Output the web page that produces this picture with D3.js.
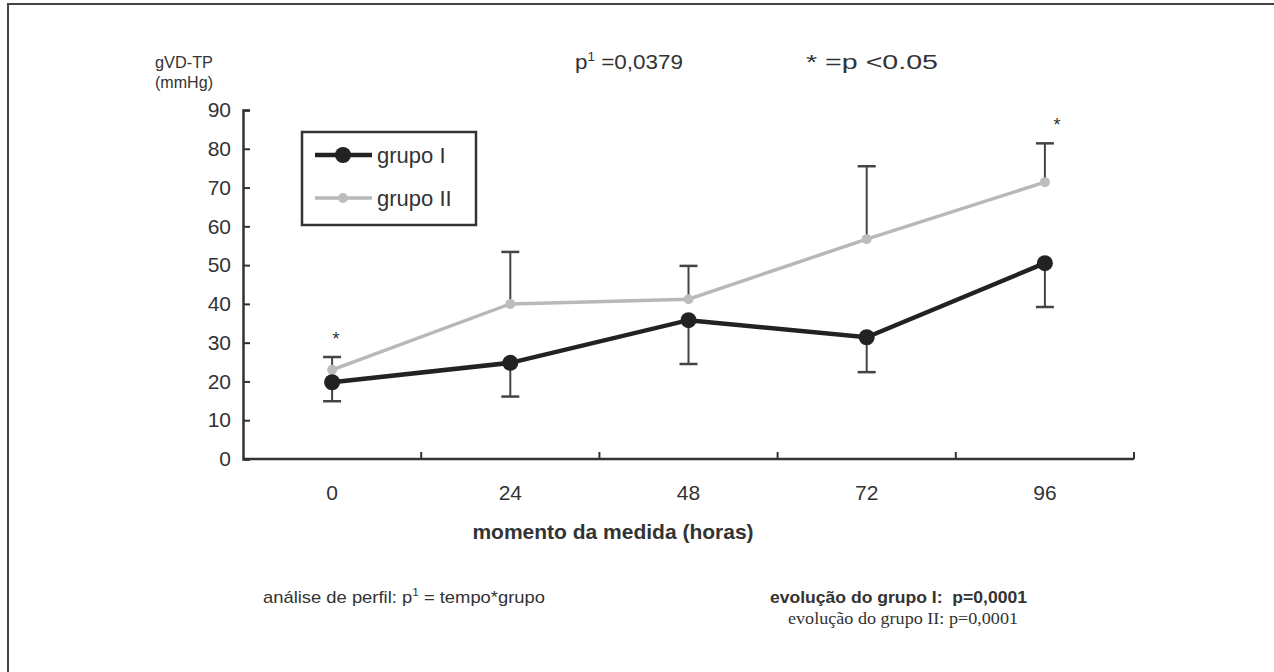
<!DOCTYPE html>
<html>
<head>
<meta charset="utf-8">
<script src="https://cdn.jsdelivr.net/npm/d3@7"></script>
<style>
body { margin: 0; background: #fff; }
text { font-family: "Liberation Sans", Arial, sans-serif; fill: #333; }
</style>
</head>
<body>
<svg width="1274" height="672"></svg>
<script>
// dados
var horas = ["0", "24", "48", "72", "96"];
var grupoI = [19.8, 24.8, 35.8, 31.4, 50.5];
var grupoIdp = [4.9, 8.7, 11.3, 9.0, 11.3];
var grupoII = [23.0, 40.0, 41.2, 56.7, 71.4];
var grupoIIdp = [3.3, 13.4, 8.6, 18.8, 10.0];
var yTicks = [0, 10, 20, 30, 40, 50, 60, 70, 80, 90];
var asterisco = ["0", "96"];

var svg = d3.select('svg');

// moldura
svg.append('path')
  .attr('d', 'M8,672 L8,4 L1274,4')
  .attr('fill', 'none')
  .attr('stroke', '#444')
  .attr('stroke-width', 2);

// escalas
var xScale = d3.scaleBand().domain(horas).range([243, 1134]).padding(0);
var yScale = d3.scaleLinear().domain([0, 90]).range([459, 110]);
var cx = function(d) { return xScale(d) + xScale.bandwidth() / 2; };

// eixo y
var yAxis = d3.axisLeft(yScale).tickValues(yTicks).tickSize(-7).tickPadding(12);
var yAxisGroup = svg.append('g').attr('class', 'yAxis')
  .attr('transform', 'translate(243,0)')
  .call(yAxis);
yAxisGroup.select('.domain').attr('stroke', '#333').attr('stroke-width', 2.5);
yAxisGroup.selectAll('.tick line').attr('stroke', '#333').attr('stroke-width', 2);
yAxisGroup.selectAll('text').attr('font-size', 21).attr('fill', '#333')
  .style('font-family', '"Liberation Sans", Arial, sans-serif');

// eixo x
var xAxis = d3.axisBottom(xScale).tickSize(0).tickPadding(26);
var xAxisGroup = svg.append('g').attr('class', 'xAxis')
  .attr('transform', 'translate(0,459)')
  .call(xAxis);
xAxisGroup.select('.domain').remove();
xAxisGroup.selectAll('text').attr('font-size', 21).attr('fill', '#333')
  .style('font-family', '"Liberation Sans", Arial, sans-serif');
xAxisGroup.append('line')
  .attr('x1', xScale.range()[0]).attr('x2', xScale.range()[1])
  .attr('stroke', '#333').attr('stroke-width', 2.5);
var limites = horas.slice(1).map(d => xScale(d)).concat([xScale.range()[1]]);
xAxisGroup.selectAll('.btick')
  .data(limites)
  .enter()
  .append('line')
  .attr('class', 'btick')
  .attr('x1', d => d).attr('x2', d => d)
  .attr('y1', 0).attr('y2', -7)
  .attr('stroke', '#333').attr('stroke-width', 2);

// barras de erro (grupo I para baixo, grupo II para cima)
function barras(valores, dp, sinal) {
  var g = svg.append('g');
  horas.forEach(function(h, i) {
    var y0 = yScale(valores[i]);
    var y1 = yScale(valores[i] + sinal * dp[i]);
    g.append('line')
      .attr('x1', cx(h)).attr('x2', cx(h))
      .attr('y1', y0).attr('y2', y1)
      .attr('stroke', '#444').attr('stroke-width', 2);
    g.append('line')
      .attr('x1', cx(h) - 9).attr('x2', cx(h) + 9)
      .attr('y1', y1).attr('y2', y1)
      .attr('stroke', '#444').attr('stroke-width', 2.5);
  });
}
barras(grupoII, grupoIIdp, 1);
barras(grupoI, grupoIdp, -1);

var linha = d3.line()
  .x((d, i) => cx(horas[i]))
  .y(d => yScale(d));

// grupo II
svg.append('path')
  .datum(grupoII)
  .attr('d', linha)
  .attr('fill', 'none')
  .attr('stroke', '#b8b8b8')
  .attr('stroke-width', 3.5);
svg.selectAll('.ptII')
  .data(grupoII)
  .enter()
  .append('circle')
  .attr('class', 'ptII')
  .attr('cx', (d, i) => cx(horas[i]))
  .attr('cy', d => yScale(d))
  .attr('r', 5)
  .attr('fill', '#bdbdbd');

// grupo I
svg.append('path')
  .datum(grupoI)
  .attr('d', linha)
  .attr('fill', 'none')
  .attr('stroke', '#222')
  .attr('stroke-width', 4.5);
svg.selectAll('.ptI')
  .data(grupoI)
  .enter()
  .append('circle')
  .attr('class', 'ptI')
  .attr('cx', (d, i) => cx(horas[i]))
  .attr('cy', d => yScale(d))
  .attr('r', 8)
  .attr('fill', '#222');

// asteriscos
svg.selectAll('.ast')
  .data(asterisco)
  .enter()
  .append('text')
  .attr('class', 'ast')
  .attr('x', d => cx(d) + (d === "96" ? 12 : 4))
  .attr('y', d => {
    var i = horas.indexOf(d);
    return yScale(grupoII[i] + grupoIIdp[i]) - 12;
  })
  .attr('text-anchor', 'middle')
  .attr('font-size', 18)
  .text('*');

// legenda
var leg = svg.append('g');
leg.append('rect')
  .attr('x', 302).attr('y', 132).attr('width', 174).attr('height', 93)
  .attr('fill', '#fff').attr('stroke', '#333').attr('stroke-width', 2.5);
leg.append('line').attr('x1', 315).attr('x2', 372).attr('y1', 155).attr('y2', 155)
  .attr('stroke', '#222').attr('stroke-width', 4.5);
leg.append('circle').attr('cx', 343).attr('cy', 155).attr('r', 8).attr('fill', '#222');
leg.append('line').attr('x1', 315).attr('x2', 372).attr('y1', 198).attr('y2', 198)
  .attr('stroke', '#b8b8b8').attr('stroke-width', 3.5);
leg.append('circle').attr('cx', 343).attr('cy', 198).attr('r', 5).attr('fill', '#bdbdbd');
leg.append('text').attr('x', 377).attr('y', 163).attr('font-size', 22).text('grupo I');
leg.append('text').attr('x', 377).attr('y', 206).attr('font-size', 22).text('grupo II');

// textos
svg.append('text').attr('x', 155).attr('y', 68).attr('font-size', 17)
  .attr('textLength', 58).attr('lengthAdjust', 'spacingAndGlyphs').text('gVD-TP');
svg.append('text').attr('x', 155).attr('y', 88).attr('font-size', 17)
  .attr('textLength', 58).attr('lengthAdjust', 'spacingAndGlyphs').text('(mmHg)');

var p1 = svg.append('text').attr('x', 575).attr('y', 69).attr('font-size', 20)
  .attr('textLength', 108).attr('lengthAdjust', 'spacingAndGlyphs');
p1.append('tspan').text('p');
p1.append('tspan').attr('font-size', 12).attr('dy', -8).text('1');
p1.append('tspan').attr('dy', 8).text(' =0,0379');

svg.append('text').attr('x', 806).attr('y', 69).attr('font-size', 20)
  .attr('textLength', 132).attr('lengthAdjust', 'spacingAndGlyphs')
  .text('* =p <0.05');

svg.append('text')
  .attr('x', 613).attr('y', 539)
  .attr('text-anchor', 'middle')
  .attr('font-size', 21).attr('font-weight', 'bold')
  .attr('fill', '#222')
  .text('momento da medida (horas)');

var an = svg.append('text').attr('x', 263).attr('y', 603).attr('font-size', 17).attr('fill', '#222')
  .attr('textLength', 282).attr('lengthAdjust', 'spacingAndGlyphs');
an.append('tspan').text('análise de perfil: p');
an.append('tspan').attr('font-size', 11).attr('dy', -7).text('1');
an.append('tspan').attr('dy', 7).text(' = tempo*grupo');

svg.append('text').attr('x', 770).attr('y', 603).attr('font-size', 17)
  .attr('font-weight', 'bold').attr('fill', '#222')
  .attr('xml:space', 'preserve')
  .attr('textLength', 257).attr('lengthAdjust', 'spacingAndGlyphs')
  .text('evolução do grupo I:  p=0,0001');

svg.append('text').attr('x', 788).attr('y', 624).attr('font-size', 17)
  .attr('fill', '#555')
  .style('font-family', '"Liberation Serif", "Times New Roman", serif')
  .attr('textLength', 230).attr('lengthAdjust', 'spacingAndGlyphs')
  .text('evolução do grupo II: p=0,0001');
</script>
</body>
</html>
